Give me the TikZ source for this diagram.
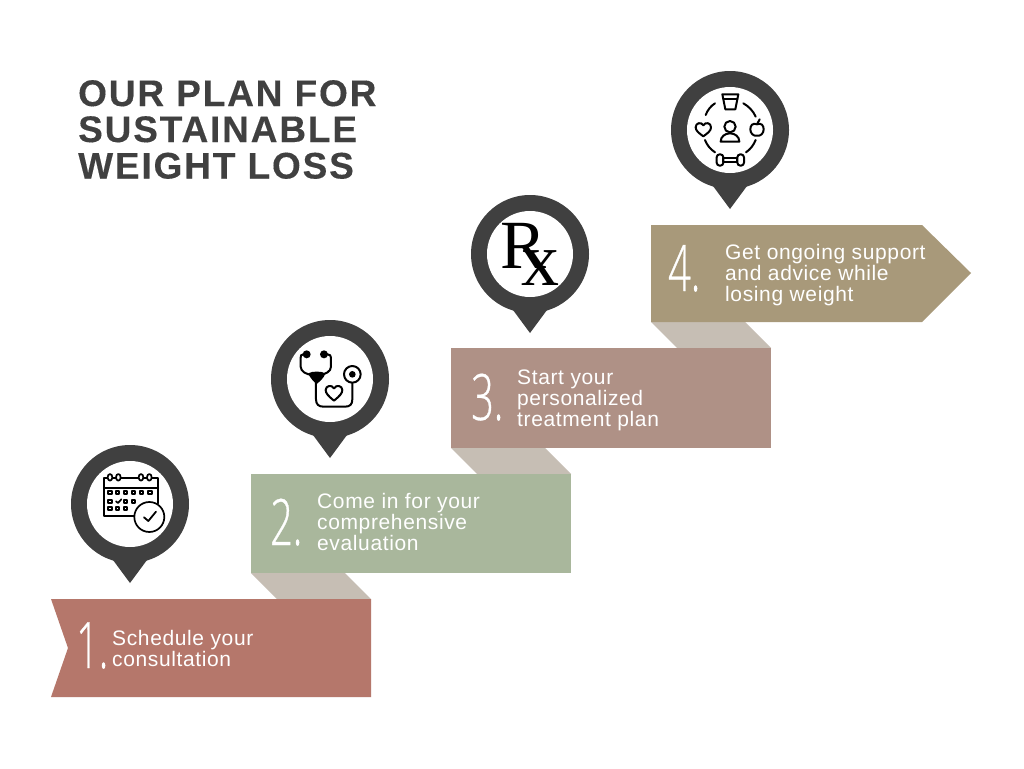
\documentclass[tikz,border=0pt]{standalone}
\usepackage{fontspec}
\setmainfont[LetterSpace=3]{Liberation Sans}
\newfontfamily\titlefont[LetterSpace=5,BoldFeatures={FakeBold=0.25}]{Liberation Sans}
\newfontfamily\numfont[UprightFont={* Light},FakeStretch=0.62,FakeBold=0.5]{Open Sans}
\newfontfamily\rxfont{Liberation Serif}
\definecolor{dark}{HTML}{404040}
\definecolor{linkc}{HTML}{C6BEB4}
\definecolor{bone}{HTML}{B5776B}
\definecolor{btwo}{HTML}{A9B79C}
\definecolor{bthree}{HTML}{AF9186}
\definecolor{bfour}{HTML}{A8997A}
\tikzset{
 titletext/.style={anchor=base west,inner sep=0,text=dark,font=\titlefont\bfseries\fontsize{37}{37}\selectfont},
 steptext/.style={anchor=base west,inner sep=0,text=white,font=\fontsize{21}{21}\selectfont},
 numtext/.style={anchor=base west,inner sep=0,text=white,font=\numfont\fontsize{64}{64}\selectfont},
 iconline/.style={draw=black,line cap=round,line join=round},
 link/.style={fill=linkc}
}
\newcommand{\pinat}[3]{%
 \fill[dark] (#2,#3) circle[radius=59];
 \fill[dark] (#2-17,#3+56) -- (#2,#3+79) -- (#2+17,#3+56) -- cycle;
 \fill[white] (#2,#3) circle[radius=43];
 \coordinate (#1) at (#2,#3);
}
\begin{document}
\begin{tikzpicture}[x=1pt,y=-1pt]
\useasboundingbox (0,0) rectangle (1024,768);
\fill[white] (0,0) rectangle (1024,768);
% title
\node[titletext] (t1) at (78,106) {OUR PLAN FOR};
\node[titletext] (t2) at (78,142) {SUSTAINABLE};
\node[titletext] (t3) at (78,178.5) {WEIGHT LOSS};
% links
\fill[link] (251,573) -- (345,573) -- (371,599) -- (277,599) -- cycle;
\fill[link] (451,448) -- (545,448) -- (571,474) -- (477,474) -- cycle;
\fill[link] (651,322) -- (745,322) -- (771,348) -- (677,348) -- cycle;
% banners
\fill[bone] (51,599) -- (371,599) -- (371,697) -- (51,697) -- (68,648) -- cycle;
\fill[btwo] (251,474) rectangle (571,573);
\fill[bthree] (451,348) rectangle (771,448);
\fill[bfour] (651,225) -- (922,225) -- (971,273) -- (922,322) -- (651,322) -- cycle;
% numerals
\node[numtext] (n1) at (76,668) {1.};
\node[numtext] (n2) at (270,545) {2.};
\node[numtext] (n3) at (471,420) {3.};
\node[numtext] (n4) at (668,291) {4.};
% step texts
\node[steptext] (a1) at (112,645) {Schedule your};
\node[steptext] (a2) at (112,666) {consultation};
\node[steptext] (b1) at (317,508) {Come in for your};
\node[steptext] (b2) at (317,529) {comprehensive};
\node[steptext] (b3) at (317,550) {evaluation};
\node[steptext] (c1) at (517,384) {Start your};
\node[steptext] (c2) at (517,405) {personalized};
\node[steptext] (c3) at (517,426) {treatment plan};
\node[steptext] (d1) at (725,259) {Get ongoing support};
\node[steptext] (d2) at (725,280) {and advice while};
\node[steptext] (d3) at (725,301) {losing weight};
% pins
\pinat{p1}{130}{504}
\pinat{p2}{330}{379}
\pinat{p3}{530}{254}
\pinat{p4}{730}{130}
% Rx
\node[anchor=base west,inner sep=0,text=black,font=\rxfont\fontsize{69}{69}\selectfont] (rr) at (500,268.3) {R};
\node[anchor=base west,inner sep=0,text=black,font=\rxfont\fontsize{76}{76}\selectfont] (rx) at (521,285) {x};
% calendar
\begin{scope}[shift={(60pt,-440pt)},x=0.3333pt,y=-0.3333pt,iconline,line width=1.7pt]
 \draw (225,228) -- (133,228) -- (133,115) -- (295,115) -- (295,190);
 \draw (133,143) -- (295,143);
 \foreach \rx in {150,175,243,268}{\filldraw[fill=white] (\rx,112) ellipse[x radius=7,y radius=10];}
 \foreach \sx in {150,173,196,220,245,270}{\draw (\sx-5,153) rectangle (\sx+5,163);}
 \foreach \sx in {150,196,220}{\draw (\sx-5,179) rectangle (\sx+5,189);}
 \draw (168,184) -- (174,189) -- (184,178);
 \foreach \sx in {150,173,196}{\draw (\sx-5,200) rectangle (\sx+5,210);}
 \filldraw[fill=white] (268,231) circle[radius=45];
 \draw[line width=1.8pt] (252,232) -- (265,243) -- (288,215);
\end{scope}
% stethoscope
\begin{scope}[shift={(260pt,-315pt)},x=0.3333pt,y=-0.3333pt,iconline,line width=2pt]
 \fill (140,118) circle[radius=12];
 \fill (192,118) circle[radius=12];
 \draw (140,118) -- (130,118) .. controls (123,118) and (122,122) .. (122,128) -- (122,155) .. controls (122,170) and (140,178) .. (155,180);
 \draw (192,118) -- (202,118) .. controls (210,118) and (213,122) .. (213,128) -- (213,155) .. controls (213,170) and (195,178) .. (180,180);
 \fill (145,175) .. controls (155,168) and (185,168) .. (196,175) .. controls (192,190) and (178,200) .. (170,207) .. controls (162,200) and (150,190) .. (145,175) -- cycle;
 \draw (168,200) -- (168,253) .. controls (168,268) and (176,275) .. (190,275) -- (255,275) .. controls (270,275) and (277,268) .. (277,253) -- (277,205);
 \draw (277,178) circle[radius=25];
 \fill (277,178) circle[radius=10];
 \draw (222,257) .. controls (205,243) and (197,235) .. (197,225) .. controls (197,212) and (215,208) .. (222,220) .. controls (229,208) and (247,212) .. (247,225) .. controls (247,235) and (239,243) .. (222,257) -- cycle;
\end{scope}
% wellness
\begin{scope}[shift={(660pt,-65pt)},x=0.3333pt,y=-0.3333pt,iconline,line width=2pt]
 \draw (187,88) -- (235,88) -- (226,133) -- (196,133) -- cycle;
 \draw (190,103) -- (232,103);
 \draw (137,150) .. controls (143,135) and (152,123) .. (165,115);
 \draw (250,115) .. controls (265,123) and (280,138) .. (287,155);
 \draw (135,225) .. controls (141,240) and (150,252) .. (165,262);
 \draw (287,225) .. controls (281,240) and (272,252) .. (258,262);
 \draw (130,214) .. controls (116,204) and (107,197) .. (107,187) .. controls (107,173) and (124,170) .. (130,181) .. controls (136,170) and (153,173) .. (153,187) .. controls (153,197) and (144,204) .. (130,214) -- cycle;
 \draw (291,178) .. controls (278,172) and (271,182) .. (271,193) .. controls (271,205) and (280,214) .. (291,212) .. controls (302,214) and (311,205) .. (311,193) .. controls (311,182) and (304,172) .. (291,178) -- cycle;
 \draw (292,176) -- (299,163);
 \draw (210,185) circle[radius=17];
 \draw (182,230) .. controls (182,215) and (195,205) .. (210,205) .. controls (225,205) and (238,215) .. (238,230) -- cycle;
 \draw[rounded corners=3pt] (170,268) rectangle (190,302);
 \draw[rounded corners=3pt] (232,268) rectangle (252,302);
 \draw (190,278) rectangle (232,292);
\end{scope}
\end{tikzpicture}
\end{document}
